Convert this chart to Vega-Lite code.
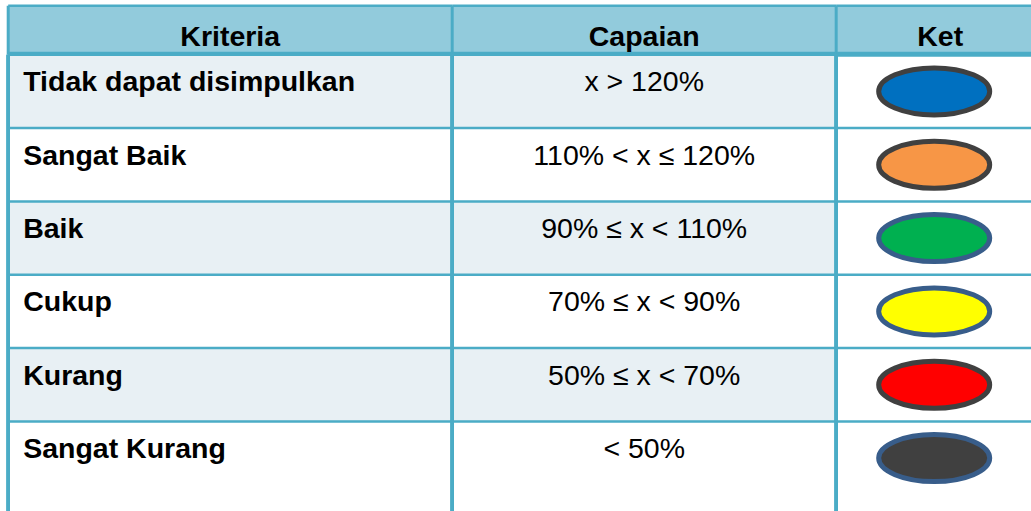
{
  "$schema": "https://vega.github.io/schema/vega-lite/v6.json",
  "background": "white",
  "padding": {"left": 5.2, "top": 3.75, "right": 0, "bottom": 0},
  "bounds": "flush",
  "spacing": 0,
  "columns": 3,
  "config": {"view": {"stroke": null}, "concat": {"spacing": 0}},
  "resolve": {"scale": {"fill": "independent", "stroke": "independent"}},
  "datasets": {
    "kolom": [{"kolom": "Kriteria"}, {"kolom": "Capaian"}, {"kolom": "Ket"}],
    "tabel": [
      {"kriteria": "Tidak dapat disimpulkan", "capaian": "x > 120%"},
      {"kriteria": "Sangat Baik", "capaian": "110% < x ≤ 120%"},
      {"kriteria": "Baik", "capaian": "90% ≤ x < 110%"},
      {"kriteria": "Cukup", "capaian": "70% ≤ x < 90%"},
      {"kriteria": "Kurang", "capaian": "50% ≤ x < 70%"},
      {"kriteria": "Sangat Kurang", "capaian": "< 50%"}
    ]
  },
  "concat": [
    {
      "width": 444, "height": 48.5,
      "view": {"fill": "#92CBDC", "stroke": null},
      "data": {"name": "kolom"},
      "transform": [{"filter": "datum.kolom === 'Kriteria'"}],
      "layer": [
        {"mark": {"type": "rule", "color": "#4BACC6", "strokeWidth": 3}, "encoding": {"x": {"datum": 0, "type": "quantitative", "scale": {"domain": [0, 1], "nice": false, "zero": false}, "axis": null}}},
        {"mark": {"type": "rule", "color": "#4BACC6", "strokeWidth": 2.5}, "encoding": {"y": {"datum": 1, "type": "quantitative", "scale": {"domain": [0, 1], "nice": false, "zero": false}, "axis": null}}},
        {"mark": {"type": "rule", "color": "#4BACC6", "strokeWidth": 5}, "encoding": {"y": {"datum": 0, "type": "quantitative"}}},
        {"mark": {"type": "text", "font": "Liberation Sans", "fontSize": 28.5, "fontWeight": "bold", "baseline": "middle", "align": "center", "dy": 7, "color": "#000000"},
         "encoding": {"x": {"datum": 0.5, "type": "quantitative"}, "y": {"datum": 0.5, "type": "quantitative"}, "text": {"field": "kolom", "type": "nominal"}}}
      ]
    },
    {
      "width": 384, "height": 48.5,
      "view": {"fill": "#92CBDC", "stroke": null},
      "data": {"name": "kolom"},
      "transform": [{"filter": "datum.kolom === 'Capaian'"}],
      "layer": [
        {"mark": {"type": "rule", "color": "#4BACC6", "strokeWidth": 3}, "encoding": {"x": {"datum": 0, "type": "quantitative", "scale": {"domain": [0, 1], "nice": false, "zero": false}, "axis": null}}},
        {"mark": {"type": "rule", "color": "#4BACC6", "strokeWidth": 2.5}, "encoding": {"y": {"datum": 1, "type": "quantitative", "scale": {"domain": [0, 1], "nice": false, "zero": false}, "axis": null}}},
        {"mark": {"type": "rule", "color": "#4BACC6", "strokeWidth": 5}, "encoding": {"y": {"datum": 0, "type": "quantitative"}}},
        {"mark": {"type": "text", "font": "Liberation Sans", "fontSize": 28.5, "fontWeight": "bold", "baseline": "middle", "align": "center", "dy": 7, "color": "#000000"},
         "encoding": {"x": {"datum": 0.5, "type": "quantitative"}, "y": {"datum": 0.5, "type": "quantitative"}, "text": {"field": "kolom", "type": "nominal"}}}
      ]
    },
    {
      "width": 196, "height": 48.5,
      "view": {"fill": "#92CBDC", "stroke": null},
      "data": {"name": "kolom"},
      "transform": [{"filter": "datum.kolom === 'Ket'"}],
      "layer": [
        {"mark": {"type": "rule", "color": "#4BACC6", "strokeWidth": 3}, "encoding": {"x": {"datum": 0, "type": "quantitative", "scale": {"domain": [0, 1], "nice": false, "zero": false}, "axis": null}}},
        {"mark": {"type": "rule", "color": "#4BACC6", "strokeWidth": 2.5}, "encoding": {"y": {"datum": 1, "type": "quantitative", "scale": {"domain": [0, 1], "nice": false, "zero": false}, "axis": null}}},
        {"mark": {"type": "rule", "color": "#4BACC6", "strokeWidth": 5}, "encoding": {"y": {"datum": 0, "type": "quantitative"}}},
        {"mark": {"type": "text", "font": "Liberation Sans", "fontSize": 28.5, "fontWeight": "bold", "baseline": "middle", "align": "center", "dx": 6, "dy": 7, "color": "#000000"},
         "encoding": {"x": {"datum": 0.5, "type": "quantitative"}, "y": {"datum": 0.5, "type": "quantitative"}, "text": {"field": "kolom", "type": "nominal"}}}
      ]
    },
    {
      "width": 444, "height": 458,
      "data": {"name": "tabel"},
      "layer": [
        {"mark": {"type": "rect"},
         "encoding": {
           "x": {"datum": 0, "type": "quantitative", "scale": {"domain": [0, 1], "nice": false, "zero": false}, "axis": null},
           "x2": {"datum": 1},
           "y": {"field": "kriteria", "type": "nominal", "sort": null, "scale": {"range": [0, 440], "paddingInner": 0, "paddingOuter": 0}, "axis": null},
           "fill": {"field": "kriteria", "type": "nominal", "legend": null, "scale": {"domain": ["Tidak dapat disimpulkan", "Sangat Baik", "Baik", "Cukup", "Kurang", "Sangat Kurang"], "range": ["#E8F0F4", "#FFFFFF", "#E8F0F4", "#FFFFFF", "#E8F0F4", "#FFFFFF"]}}
         }},
        {"mark": {"type": "rule", "color": "#4BACC6", "strokeWidth": 2.5}, "encoding": {"y": {"field": "kriteria", "type": "nominal", "sort": null, "bandPosition": 0}}},
        {"mark": {"type": "rule", "color": "#4BACC6", "strokeWidth": 3}, "encoding": {"x": {"datum": 0, "type": "quantitative"}}},
        {"mark": {"type": "text", "font": "Liberation Sans", "fontSize": 28.5, "fontWeight": "bold", "baseline": "alphabetic", "align": "left", "dx": 15, "color": "#000000"},
         "encoding": {"x": {"datum": 0, "type": "quantitative"}, "y": {"field": "kriteria", "type": "nominal", "sort": null}, "text": {"field": "kriteria", "type": "nominal"}}}
      ]
    },
    {
      "width": 384, "height": 458,
      "data": {"name": "tabel"},
      "layer": [
        {"mark": {"type": "rect"},
         "encoding": {
           "x": {"datum": 0, "type": "quantitative", "scale": {"domain": [0, 1], "nice": false, "zero": false}, "axis": null},
           "x2": {"datum": 1},
           "y": {"field": "kriteria", "type": "nominal", "sort": null, "scale": {"range": [0, 440], "paddingInner": 0, "paddingOuter": 0}, "axis": null},
           "fill": {"field": "kriteria", "type": "nominal", "legend": null, "scale": {"domain": ["Tidak dapat disimpulkan", "Sangat Baik", "Baik", "Cukup", "Kurang", "Sangat Kurang"], "range": ["#E8F0F4", "#FFFFFF", "#E8F0F4", "#FFFFFF", "#E8F0F4", "#FFFFFF"]}}
         }},
        {"mark": {"type": "rule", "color": "#4BACC6", "strokeWidth": 2.5}, "encoding": {"y": {"field": "kriteria", "type": "nominal", "sort": null, "bandPosition": 0}}},
        {"mark": {"type": "rule", "color": "#4BACC6", "strokeWidth": 3}, "encoding": {"x": {"datum": 0, "type": "quantitative"}}},
        {"mark": {"type": "text", "font": "Liberation Sans", "fontSize": 28.5, "fontWeight": "normal", "baseline": "alphabetic", "align": "center", "color": "#000000"},
         "encoding": {"x": {"datum": 0.5, "type": "quantitative"}, "y": {"field": "kriteria", "type": "nominal", "sort": null}, "text": {"field": "capaian", "type": "nominal"}}}
      ]
    },
    {
      "width": 196, "height": 458,
      "data": {"name": "tabel"},
      "layer": [
        {"mark": {"type": "rule", "color": "#4BACC6", "strokeWidth": 2.5},
         "encoding": {"y": {"field": "kriteria", "type": "nominal", "sort": null, "bandPosition": 0, "scale": {"range": [0, 440], "paddingInner": 0, "paddingOuter": 0}, "axis": null}}},
        {"mark": {"type": "rule", "color": "#4BACC6", "strokeWidth": 3}, "encoding": {"x": {"datum": 0, "type": "quantitative", "scale": {"domain": [0, 1], "nice": false, "zero": false}, "axis": null}}},
        {"mark": {"type": "point", "shape": "M -1 0 A 1 0.423 0 1 1 1 0 A 1 0.423 0 1 1 -1 0 Z", "size": 12321, "filled": true, "opacity": 1, "fillOpacity": 1, "strokeOpacity": 1, "strokeWidth": 5},
         "encoding": {
           "x": {"datum": 0.5, "type": "quantitative"},
           "y": {"field": "kriteria", "type": "nominal", "sort": null},
           "fill": {"field": "kriteria", "type": "nominal", "legend": null, "scale": {"domain": ["Tidak dapat disimpulkan", "Sangat Baik", "Baik", "Cukup", "Kurang", "Sangat Kurang"], "range": ["#0070C0", "#F79646", "#00B050", "#FFFF00", "#FF0000", "#404040"]}},
           "stroke": {"field": "kriteria", "type": "nominal", "legend": null, "scale": {"domain": ["Tidak dapat disimpulkan", "Sangat Baik", "Baik", "Cukup", "Kurang", "Sangat Kurang"], "range": ["#404040", "#404040", "#385D8A", "#385D8A", "#404040", "#385D8A"]}}
         }}
      ]
    }
  ]
}
